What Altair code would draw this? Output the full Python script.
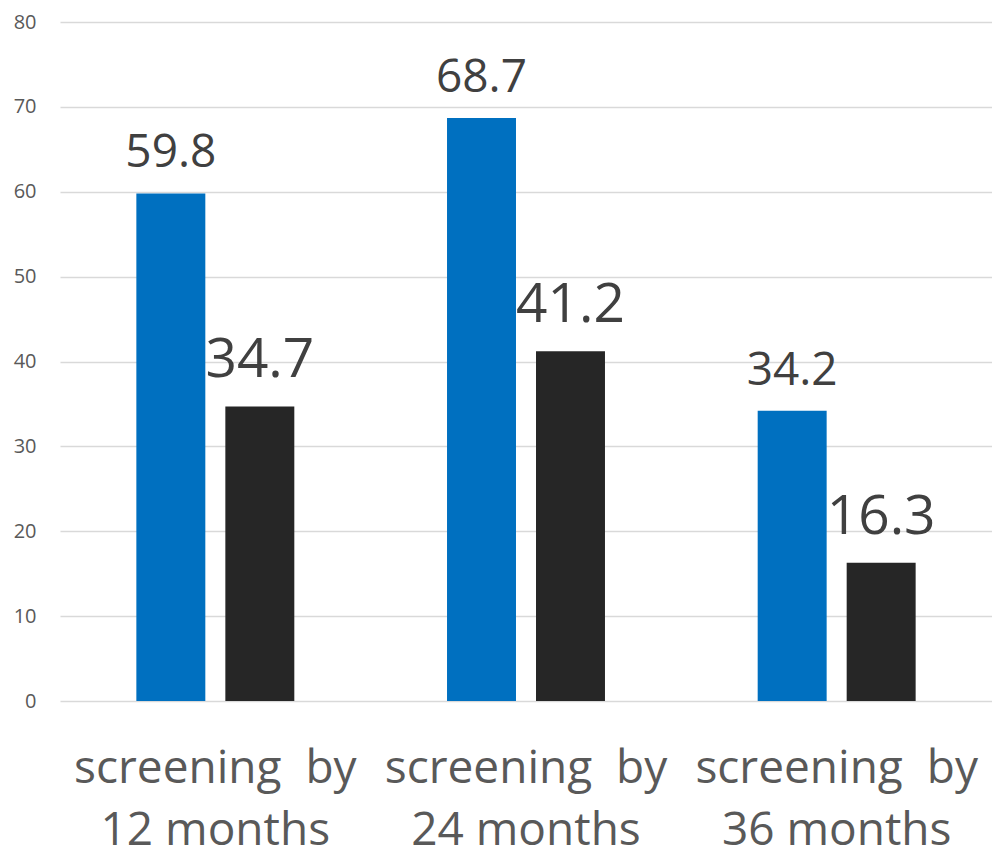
import altair as alt
import pandas as pd

NB = "\u00a0"
categories = ["screening" + NB + NB + "by|12 months",
              "screening" + NB + NB + "by|24 months",
              "screening" + NB + NB + "by|36 months"]
series = ["first", "second"]
values_first = [59.8, 68.7, 34.2]
values_second = [34.7, 41.2, 16.3]
colors = ["#0070C0", "#262626"]

rows = []
for i, c in enumerate(categories):
    rows.append({"cat": c, "series": series[0], "value": values_first[i], "order": i})
    rows.append({"cat": c, "series": series[1], "value": values_second[i], "order": i})
df = pd.DataFrame(rows)

x = alt.X("cat:N", sort=categories,
          scale=alt.Scale(paddingInner=0, paddingOuter=0),
          axis=alt.Axis(title=None, labelExpr="split(datum.label, '|')",
                        labelFont="Open Sans", labelFontSize=46, labelColor="#595959",
                        labelLineHeight=62, labelPadding=45, labelAngle=0, labelLimit=0,
                        ticks=False, domain=False, grid=False))
xo = alt.XOffset("series:N", sort=series,
                 scale=alt.Scale(paddingInner=0.225, paddingOuter=0.858))

base = alt.Chart(df).encode(x=x, xOffset=xo)

bars = base.mark_bar().encode(
    y=alt.Y("value:Q", scale=alt.Scale(domain=[0, 80]),
            axis=alt.Axis(title=None, values=list(range(0, 81, 10)),
                          labelFont="Open Sans", labelFontSize=20, labelColor="#595959",
                          labelPadding=24, labelOverlap=False, ticks=False, domain=False,
                          gridColor="#d9d9d9", gridWidth=1.5)),
    color=alt.Color("series:N", sort=series,
                    scale=alt.Scale(domain=series, range=colors), legend=None),
)

lab1 = base.transform_filter(alt.datum.series == series[0]).mark_text(
    font="Open Sans", fontSize=46, color="#404040", baseline="alphabetic", dy=-26
).encode(y="value:Q", text=alt.Text("value:Q", format=".1f"))

lab2 = base.transform_filter(alt.datum.series == series[1]).mark_text(
    font="Open Sans", fontSize=55, color="#404040", baseline="alphabetic", dy=-29
).encode(y="value:Q", text=alt.Text("value:Q", format=".1f"))

chart = alt.layer(bars, lab1, lab2).properties(
    width=932, height=679,
    padding={"left": 60, "top": 22, "right": 0, "bottom": 154},
    autosize=alt.AutoSizeParams(type="none"),
).configure(background="white").configure_view(stroke=None)

chart.save("out.html", embed_options={"renderer": "svg", "actions": False})
